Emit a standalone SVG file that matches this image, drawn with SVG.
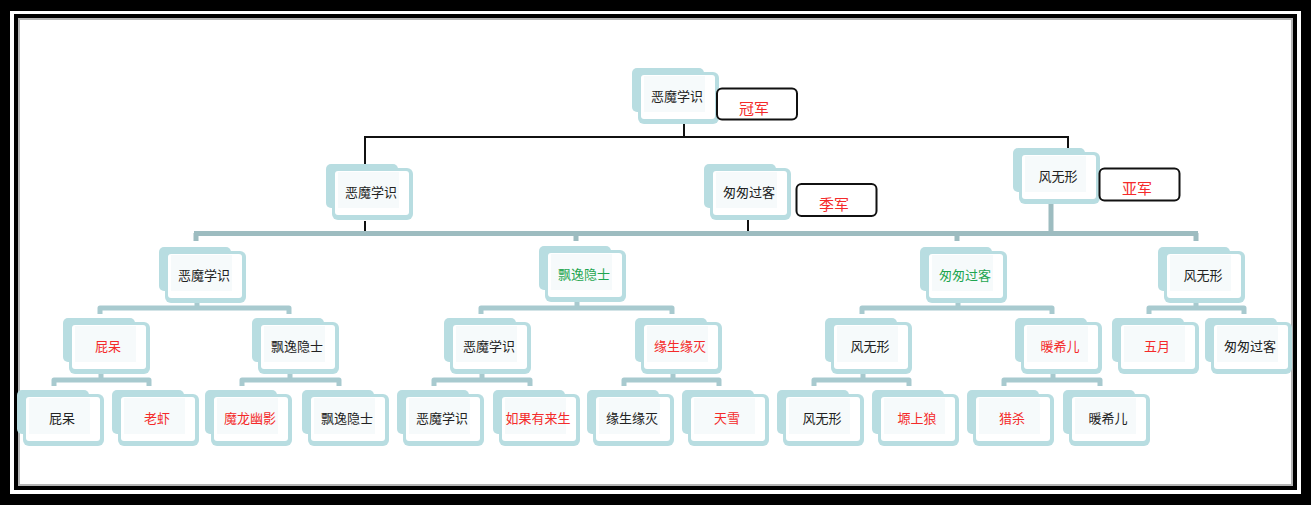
<svg xmlns="http://www.w3.org/2000/svg" xmlns:xlink="http://www.w3.org/1999/xlink" width="1311" height="505" viewBox="0 0 1311 505">
<style>
.t{font-family:"Noto Sans CJK SC","Noto Sans",sans-serif;font-size:13px;text-anchor:middle;fill:#222}
.r{fill:#f42a2a}
.g{fill:#1fa650}
.lbl{font-family:"Noto Sans CJK SC","Noto Sans",sans-serif;font-size:15px;text-anchor:middle;fill:#f42a2a}
.lb{fill:#fff;stroke:#111;stroke-width:2}
.blk{stroke:#111;stroke-width:2;fill:none}
.br{stroke:#a8cacf;stroke-width:5;fill:none;stroke-linejoin:round}
.bar{stroke:#9dbcc0;stroke-width:5;fill:none}
</style>
<defs>
<g id="box">
<rect x="-6" y="-4" width="72" height="44" rx="5" fill="#b8dde1"/>
<rect x="0" y="0" width="81" height="52" rx="6" fill="#b8dde1"/>
<rect x="3" y="3" width="74" height="44" rx="3" fill="#ffffff"/>
<rect x="6" y="4" width="61" height="36" fill="#f6fafb"/>
</g>
</defs>
<rect x="0" y="0" width="1311" height="505" fill="#000"/>
<rect x="10" y="11" width="1291" height="483" fill="#fff"/>
<rect x="14" y="14" width="1283" height="476" fill="#000"/>
<rect x="18" y="18" width="1275" height="468" fill="#fff"/>
<rect x="19" y="19" width="1273" height="466" fill="none" stroke="#b4b4b4" stroke-width="2"/>
<g id="connectors">
<path class="blk" d="M684 124V137M364 137H1069M365 137V168M1068 137V152M365 221V233M748 220V233"/>
<path class="bar" d="M1051 204V233M194 233.5H1198M196 233V241M576 233V241M957 233V241M1196 233V241"/>
<path class="br" d="M197 302V308M100 314V308H289V314M577 302V308M481 314V308H672V314M958 302V308M862 314V308H1052V314M1196 302V308M1149 314V308H1244V314"/>
<path class="br" d="M101 374V380M54 386V380H149V386M290 374V380M242 386V380H339V386M482 374V380M434 386V380H530V386M673 374V380M624 386V380H719V386M863 374V380M814 386V380H909V386M1053 374V380M1004 386V380H1100V386"/>
</g>
<g id="n1" transform="translate(638,72)"><use href="#box"/><text class="t" x="39" y="29">恶魔学识</text></g>
<g id="lab1"><rect class="lb" x="717" y="88.5" width="80" height="31" rx="5"/><text class="lbl" x="754" y="114">冠军</text></g>
<g id="n2" transform="translate(332,168)"><use href="#box"/><text class="t" x="39" y="29">恶魔学识</text></g>
<g id="n3" transform="translate(710,168)"><use href="#box"/><text class="t" x="39" y="29">匆匆过客</text></g>
<g id="lab3"><rect class="lb" x="796.5" y="184" width="80" height="32" rx="5"/><text class="lbl" x="834" y="210">季军</text></g>
<g id="n4" transform="translate(1019,152)"><use href="#box"/><text class="t" x="39" y="29">风无形</text></g>
<g id="lab2"><rect class="lb" x="1099.5" y="168.5" width="80" height="32" rx="5"/><text class="lbl" x="1137" y="194">亚军</text></g>
<g id="n5" transform="translate(165,251)"><use href="#box"/><text class="t" x="39" y="29">恶魔学识</text></g>
<g id="n6" transform="translate(545,250)"><use href="#box"/><text class="t g" x="39" y="29">飘逸隐士</text></g>
<g id="n7" transform="translate(926,251)"><use href="#box"/><text class="t g" x="39" y="29">匆匆过客</text></g>
<g id="n8" transform="translate(1164,251)"><use href="#box"/><text class="t" x="39" y="29">风无形</text></g>
<g id="n9" transform="translate(69,322)"><use href="#box"/><text class="t r" x="39" y="29">屁呆</text></g>
<g id="n10" transform="translate(258,322)"><use href="#box"/><text class="t" x="39" y="29">飘逸隐士</text></g>
<g id="n11" transform="translate(450,322)"><use href="#box"/><text class="t" x="39" y="29">恶魔学识</text></g>
<g id="n12" transform="translate(641,322)"><use href="#box"/><text class="t r" x="39" y="29">缘生缘灭</text></g>
<g id="n13" transform="translate(831,322)"><use href="#box"/><text class="t" x="39" y="29">风无形</text></g>
<g id="n14" transform="translate(1021,322)"><use href="#box"/><text class="t r" x="39" y="29">暖希儿</text></g>
<g id="n15" transform="translate(1118,322)"><use href="#box"/><text class="t r" x="39" y="29">五月</text></g>
<g id="n16" transform="translate(1211,322)"><use href="#box"/><text class="t" x="39" y="29">匆匆过客</text></g>
<g id="n17" transform="translate(23,394)"><use href="#box"/><text class="t" x="39" y="29">屁呆</text></g>
<g id="n18" transform="translate(118,394)"><use href="#box"/><text class="t r" x="39" y="29">老虾</text></g>
<g id="n19" transform="translate(211,394)"><use href="#box"/><text class="t r" x="39" y="29">魔龙幽影</text></g>
<g id="n20" transform="translate(308,394)"><use href="#box"/><text class="t" x="39" y="29">飘逸隐士</text></g>
<g id="n21" transform="translate(403,394)"><use href="#box"/><text class="t" x="39" y="29">恶魔学识</text></g>
<g id="n22" transform="translate(499,394)"><use href="#box"/><text class="t r" x="39" y="29">如果有来生</text></g>
<g id="n23" transform="translate(593,394)"><use href="#box"/><text class="t" x="39" y="29">缘生缘灭</text></g>
<g id="n24" transform="translate(688,394)"><use href="#box"/><text class="t r" x="39" y="29">天雪</text></g>
<g id="n25" transform="translate(783,394)"><use href="#box"/><text class="t" x="39" y="29">风无形</text></g>
<g id="n26" transform="translate(878,394)"><use href="#box"/><text class="t r" x="39" y="29">塬上狼</text></g>
<g id="n27" transform="translate(973,394)"><use href="#box"/><text class="t r" x="39" y="29">猎杀</text></g>
<g id="n28" transform="translate(1069,394)"><use href="#box"/><text class="t" x="39" y="29">暖希儿</text></g>
</svg>
